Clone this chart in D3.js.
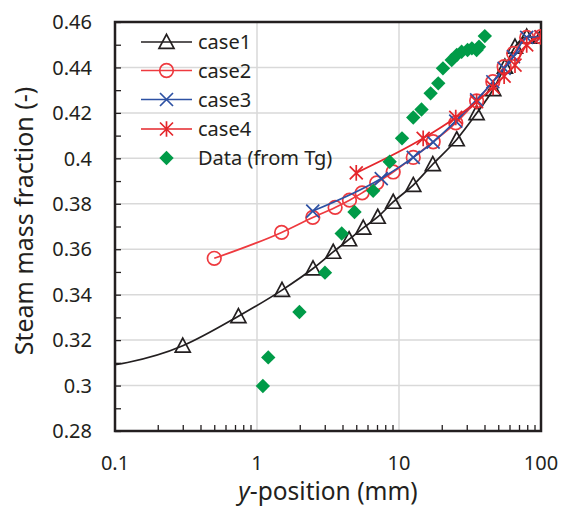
<!DOCTYPE html>
<html>
<head>
<meta charset="utf-8">
<script src="https://cdn.jsdelivr.net/npm/d3@7"></script>
<style>
  html, body { margin: 0; padding: 0; background: #fff; }
  svg { display: block; font-family: "Noto Sans", "DejaVu Sans", sans-serif; }
</style>
</head>
<body>
<svg id="chart" width="561" height="507"></svg>
<script>
// ---- data ----
const case1X = [0.05, 0.3, 0.74, 1.5, 2.48, 3.44, 4.45, 5.6, 7.08, 9.1, 12.6, 17.3, 25.5, 35.2, 46.1, 55.7, 65.6, 79.3, 100];
const case1Y = [0.3065, 0.3175, 0.3305, 0.342, 0.3515, 0.3588, 0.3643, 0.3694, 0.3742, 0.3808, 0.3882, 0.3974, 0.4083, 0.4198, 0.4304, 0.4403, 0.4491, 0.4535, 0.4535];

const case2X = [0.5, 1.49, 2.47, 3.55, 4.48, 5.5, 6.97, 9.1, 12.6, 17.4, 25.1, 35.2, 45.8, 55, 64.2, 79.3, 100];
const case2Y = [0.356, 0.3674, 0.374, 0.3784, 0.3816, 0.3848, 0.3892, 0.394, 0.4004, 0.4073, 0.4156, 0.4253, 0.4337, 0.4403, 0.4462, 0.4532, 0.4535];

const case3X = [2.47, 7.5, 12.6, 17.4, 25.1, 35.2, 45.8, 55, 64, 79.3, 100];
const case3Y = [0.3768, 0.3911, 0.4004, 0.4071, 0.4164, 0.4257, 0.4337, 0.4396, 0.4447, 0.4532, 0.4535];

const case4X = [5.0, 14.8, 25.1, 35.2, 46, 55, 65.6, 79.3, 100];
const case4Y = [0.3936, 0.4088, 0.418, 0.4249, 0.4312, 0.4362, 0.441, 0.4499, 0.4535];

const dataX = [1.1, 1.2, 1.99, 3.01, 3.95, 4.86, 6.58, 8.6, 10.5, 12.6, 14.4, 16.7, 18.9, 20.4, 23.5, 25.5, 27.6, 30.4, 32.6, 35.2, 36.6, 40.2];
const dataY = [0.2998, 0.3124, 0.3324, 0.3497, 0.3669, 0.3764, 0.3857, 0.3985, 0.4088, 0.4180, 0.4215, 0.4286, 0.4330, 0.4396, 0.4433, 0.4455, 0.4469, 0.4477, 0.4484, 0.4477, 0.4491, 0.4538];

const xTickValues = [0.1, 1, 10, 100];
const xTickLabels = ["0.1", "1", "10", "100"];
const yTickValues = [0.28, 0.30, 0.32, 0.34, 0.36, 0.38, 0.40, 0.42, 0.44, 0.46];
const yTickLabels = ["0.28", "0.3", "0.32", "0.34", "0.36", "0.38", "0.4", "0.42", "0.44", "0.46"];

const seriesNames = ["case1", "case2", "case3", "case4", "Data (from Tg)"];
const xTitle = "y-position (mm)";
const yTitle = "Steam mass fraction (-)";

// ---- layout ----
const L = 115, R = 541, T = 22, B = 431;
const svg = d3.select("#chart");
const x = d3.scaleLog().domain([0.1, 100]).range([L, R]);
const y = d3.scaleLinear().domain([0.28, 0.46]).range([B, T]);

const colors = { c1: "#231f20", c2: "#ee3a3f", c3: "#2d51a3", c4: "#e4262b", data: "#009b48" };
const axisColor = "#231f20";

svg.append("defs").append("clipPath").attr("id", "plotclip")
  .append("rect").attr("x", L).attr("y", T).attr("width", R - L).attr("height", B - T);

// gridlines
const grid = svg.append("g");
yTickValues.slice(1, -1).forEach(v => {
  grid.append("line").attr("x1", L).attr("x2", R).attr("y1", y(v)).attr("y2", y(v))
    .attr("stroke", "#d9d9d9").attr("stroke-width", 1.5);
});
xTickValues.slice(1, -1).forEach(v => {
  grid.append("line").attr("x1", x(v)).attr("x2", x(v)).attr("y1", T).attr("y2", B)
    .attr("stroke", "#d9d9d9").attr("stroke-width", 1.5);
});

// axes via d3 axis generators (ticks inward)
const minorX = [];
[0.1, 1, 10].forEach(d => { for (let k = 2; k <= 9; k++) minorX.push(d * k); });
const xAxisG = svg.append("g").attr("transform", `translate(0,${B})`)
  .call(d3.axisBottom(x).tickValues(minorX).tickSize(-6).tickFormat(""));
xAxisG.select(".domain").remove();
xAxisG.selectAll("line").attr("stroke", axisColor).attr("stroke-width", 1.3);

const minorY = d3.range(0, 19).map(i => +(0.28 + i * 0.01).toFixed(2));
const yAxisG = svg.append("g").attr("transform", `translate(${L},0)`)
  .call(d3.axisLeft(y).tickValues(minorY).tickSize(-6).tickFormat(""));
yAxisG.select(".domain").remove();
yAxisG.selectAll("line").attr("stroke", axisColor).attr("stroke-width", 1.3);

// frame
svg.append("rect").attr("x", L).attr("y", T).attr("width", R - L).attr("height", B - T)
  .attr("fill", "none").attr("stroke", axisColor).attr("stroke-width", 2.5);

// tick labels
const tickFont = 20;
svg.append("g").selectAll("text").data(yTickValues).join("text")
  .attr("x", 92).attr("y", d => y(d)).attr("dy", "0.36em")
  .attr("text-anchor", "end").attr("font-size", tickFont).attr("fill", axisColor)
  .text((d, i) => yTickLabels[i]);
svg.append("g").selectAll("text").data(xTickValues).join("text")
  .attr("x", d => x(d)).attr("y", 470)
  .attr("text-anchor", "middle").attr("font-size", tickFont).attr("fill", axisColor)
  .text((d, i) => xTickLabels[i]);

// axis titles
const xt = svg.append("text").attr("x", 328).attr("y", 500).attr("text-anchor", "middle")
  .attr("font-size", 24.5).attr("fill", axisColor);
xt.append("tspan").attr("font-style", "italic").text(xTitle.slice(0, 1));
xt.append("tspan").text(xTitle.slice(1));
svg.append("text").attr("transform", "translate(33,221) rotate(-90)")
  .attr("text-anchor", "middle").attr("font-size", 25).attr("fill", axisColor)
  .text(yTitle);

// marker drawers
function triangle(g, cx, cy, color) {
  const s = 15, h = 14;
  g.append("path").attr("d", `M${cx},${cy - h * 0.55}L${cx + s / 2},${cy + h * 0.45}L${cx - s / 2},${cy + h * 0.45}Z`)
    .attr("fill", "none").attr("stroke", color).attr("stroke-width", 1.7);
}
function circle(g, cx, cy, color) {
  g.append("circle").attr("cx", cx).attr("cy", cy).attr("r", 6.8)
    .attr("fill", "none").attr("stroke", color).attr("stroke-width", 1.7);
}
function cross(g, cx, cy, color) {
  const a = 6.5;
  g.append("path").attr("d", `M${cx - a},${cy - a}L${cx + a},${cy + a}M${cx - a},${cy + a}L${cx + a},${cy - a}`)
    .attr("fill", "none").attr("stroke", color).attr("stroke-width", 1.7);
}
function star(g, cx, cy, color) {
  const a = 6.5;
  g.append("path").attr("d", `M${cx - a},${cy - a}L${cx + a},${cy + a}M${cx - a},${cy + a}L${cx + a},${cy - a}M${cx},${cy - a * 1.2}L${cx},${cy + a * 1.2}`)
    .attr("fill", "none").attr("stroke", color).attr("stroke-width", 1.7);
}
function diamond(g, cx, cy, color) {
  const a = 7.2;
  g.append("path").attr("d", `M${cx},${cy - a}L${cx + a},${cy}L${cx},${cy + a}L${cx - a},${cy}Z`)
    .attr("fill", color).attr("stroke", "none");
}

const plot = svg.append("g").attr("clip-path", "url(#plotclip)");
const line = d3.line().x(d => x(d[0])).y(d => y(d[1])).curve(d3.curveMonotoneX);

const series = [
  { xs: case1X, ys: case1Y, color: colors.c1, marker: triangle, line: true },
  { xs: case2X, ys: case2Y, color: colors.c2, marker: circle, line: true },
  { xs: case3X, ys: case3Y, color: colors.c3, marker: cross, line: true },
  { xs: case4X, ys: case4Y, color: colors.c4, marker: star, line: true },
  { xs: dataX, ys: dataY, color: colors.data, marker: diamond, line: false }
];

series.forEach(s => {
  const pts = s.xs.map((v, i) => [v, s.ys[i]]);
  if (s.line) {
    plot.append("path").datum(pts).attr("d", line)
      .attr("fill", "none").attr("stroke", s.color).attr("stroke-width", 1.7);
  }
  const mg = plot.append("g");
  pts.forEach(p => s.marker(mg, x(p[0]), y(p[1]), s.color));
});

// legend
const legend = svg.append("g");
const rowY = [42, 70.5, 99.5, 129, 158];
series.forEach((s, i) => {
  const cy = rowY[i];
  if (s.line) {
    legend.append("line").attr("x1", 141).attr("x2", 192).attr("y1", cy).attr("y2", cy)
      .attr("stroke", s.color).attr("stroke-width", 1.7);
  }
  s.marker(legend, 166.5, cy, s.color);
  legend.append("text").attr("x", 198).attr("y", cy).attr("dy", "0.36em")
    .attr("font-size", 20).attr("fill", axisColor).text(seriesNames[i]);
});
</script>
</body>
</html>
